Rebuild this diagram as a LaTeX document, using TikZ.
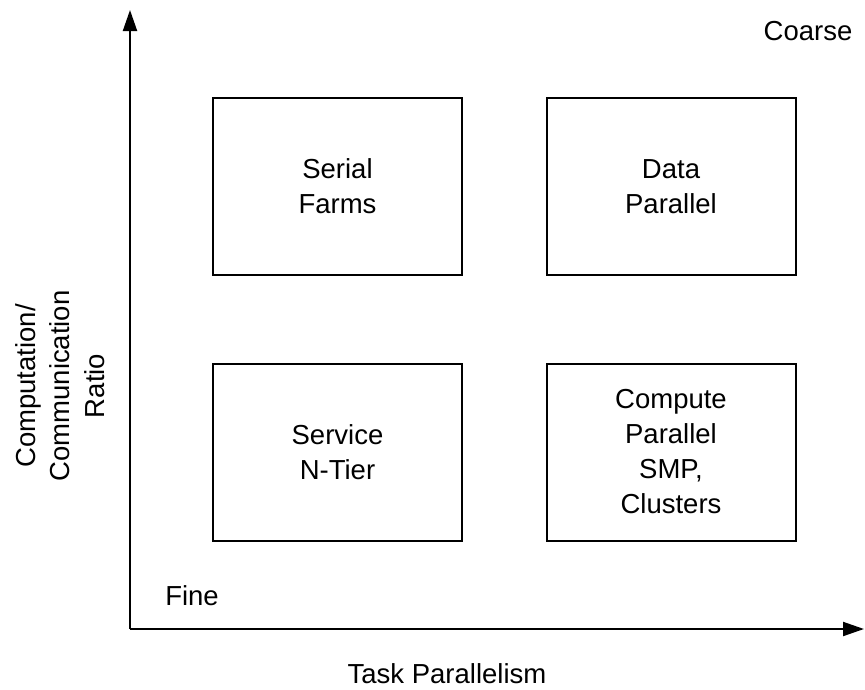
\documentclass[tikz,border=0pt]{standalone}
\usepackage{fontspec}
\setmainfont{Liberation Sans}
\usetikzlibrary{arrows.meta}

\tikzset{
  quadrant/.style={draw=black, line width=2pt, minimum width=249pt, minimum height=177pt,
    align=center, font=\fontsize{27.5}{35}\selectfont, inner sep=0pt},
  axis/.style={line width=2pt, -{Triangle[length=21pt,width=14pt]}},
  label/.style={font=\fontsize{27.5}{34.5}\selectfont, inner sep=0pt}
}

\begin{document}
\begin{tikzpicture}[x=1pt,y=-1pt]
  \useasboundingbox (0,0) rectangle (865,689);

  % axes
  \coordinate (origin) at (130,629);
  \coordinate (ytip) at (130,10);
  \coordinate (xtip) at (864,629);
  \draw[axis] (origin) -- (ytip);
  \draw[axis] (origin) -- (xtip);

  % the four quadrants
  \node[quadrant] (serial)  at (337.5,186.5) {Serial\\Farms};
  \node[quadrant] (data)    at (671,186.5)   {Data\\Parallel};
  \node[quadrant] (service) at (337.5,452)   {Service\\N-Tier};
  \node[quadrant] (compute) at (671,452)     {Compute\\Parallel\\SMP,\\Clusters};

  % axis labels
  \node[label, anchor=base] (coarse) at (808,40)  {Coarse};
  \node[label, anchor=base] (fine)   at (192,605) {Fine};
  \node[label, anchor=base] (task)   at (447,683) {Task Parallelism};
  \node[label, rotate=90, align=center] (ratio) at (60,386)
    {Computation/\\Communication\\Ratio};
\end{tikzpicture}
\end{document}
